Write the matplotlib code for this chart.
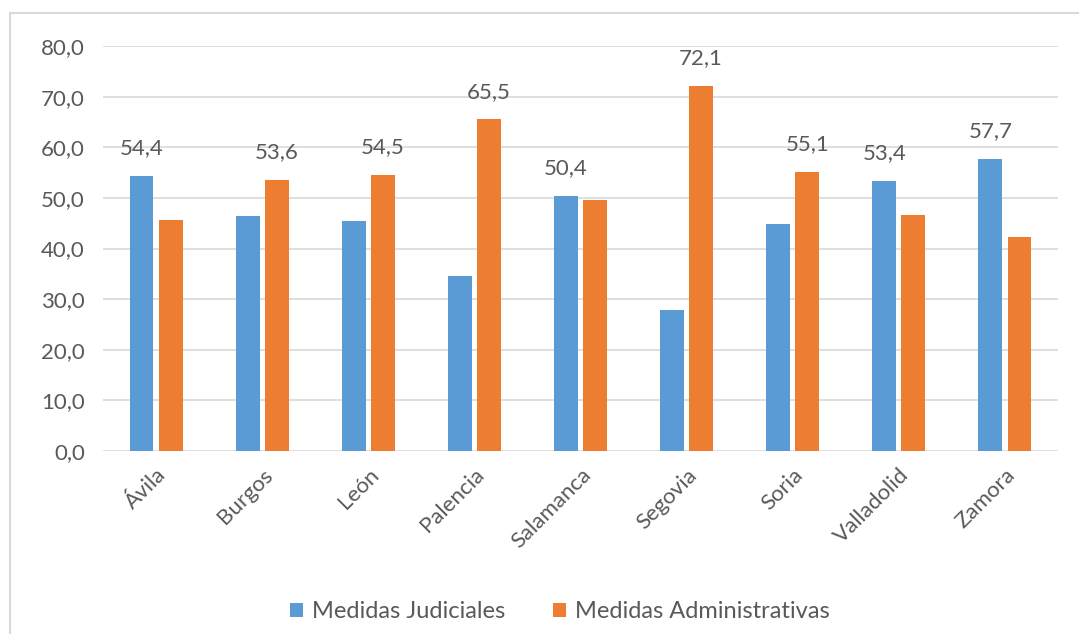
import numpy as np
import matplotlib.pyplot as plt
from matplotlib.lines import Line2D

provincias = ["Ávila", "Burgos", "León", "Palencia", "Salamanca",
              "Segovia", "Soria", "Valladolid", "Zamora"]
judiciales = [54.4, 46.4, 45.5, 34.5, 50.4, 27.9, 44.9, 53.4, 57.7]
administrativas = [45.6, 53.6, 54.5, 65.5, 49.6, 72.1, 55.1, 46.6, 42.3]
yticks = [0, 10, 20, 30, 40, 50, 60, 70, 80]

plt.rcParams['font.family'] = ['Lato', 'DejaVu Sans']
gris = '#595959'

fig = plt.figure(figsize=(10.79, 6.34), dpi=100)
ax = fig.add_axes([103 / 1079, 1 - 451 / 634, 955 / 1079, 405 / 634])

x = np.arange(len(provincias))
w = 0.225
b1 = ax.bar(x - 0.137, judiciales, w, color='#5B9BD5', label='Medidas Judiciales', zorder=3)
b2 = ax.bar(x + 0.137, administrativas, w, color='#ED7D31', label='Medidas Administrativas', zorder=3)

# etiqueta solo en la barra mayor de cada provincia
for i in range(len(provincias)):
    if judiciales[i] >= administrativas[i]:
        xi, v = x[i] - 0.137, judiciales[i]
    else:
        xi, v = x[i] + 0.137, administrativas[i]
    ax.text(xi, v + 3.5, f"{v:.1f}".replace('.', ','), ha='center', va='bottom',
            fontsize=16, color=gris)

ax.set_xlim(-0.5, len(provincias) - 0.5)
ax.set_ylim(0, 80)
ax.set_yticks(yticks)
ax.set_yticklabels([f"{v:.1f}".replace('.', ',') for v in yticks], fontsize=16, color=gris)
ax.set_xticks(x)
ax.set_xticklabels(provincias, rotation=45, ha='right', rotation_mode='anchor',
                   fontsize=16, color=gris)
ax.tick_params(axis='both', length=0)
ax.tick_params(axis='y', pad=13)
ax.tick_params(axis='x', pad=10)
ax.grid(axis='y', color='#D9D9D9', linewidth=1.2, zorder=0)
for s in ax.spines.values():
    s.set_visible(False)

fig.legend(handles=[b1, b2], loc='center', bbox_to_anchor=(560 / 1079, 1 - 612 / 634),
           ncol=2, frameon=False, fontsize=17, labelcolor=gris,
           handlelength=0.55, handleheight=0.55, handletextpad=0.4, columnspacing=2.0)

# borde del gráfico
fig.add_artist(Line2D([10 / 1079, 10 / 1079], [0, 1 - 13 / 634], color='#D9D9D9', lw=1.5))
fig.add_artist(Line2D([10 / 1079, 1], [1 - 13 / 634, 1 - 13 / 634], color='#D9D9D9', lw=1.5))

fig.savefig('out.png', dpi=100)
